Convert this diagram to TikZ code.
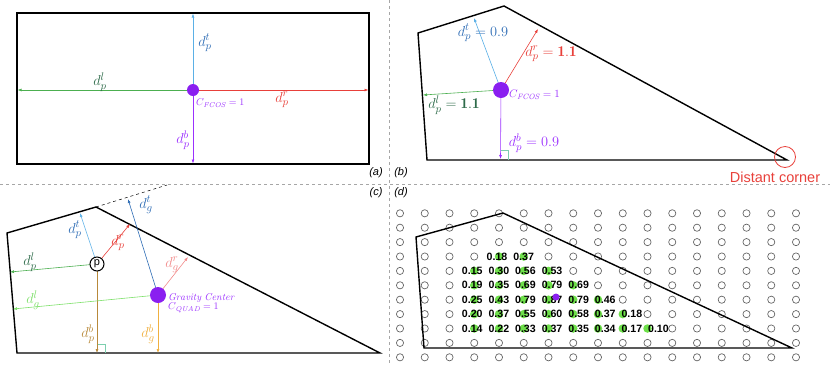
\documentclass[tikz,border=0pt]{standalone}
\usepackage{fontspec}
\setsansfont{Liberation Sans}
\usetikzlibrary{arrows.meta}
\definecolor{lblue}{HTML}{5BB0E6}
\definecolor{dblue}{HTML}{2F6DB5}
\definecolor{agreen}{HTML}{4CAF50}
\definecolor{dgreen}{HTML}{2E6B4A}
\definecolor{ared}{HTML}{E8403A}
\definecolor{apurple}{HTML}{9B30FF}
\definecolor{dotpurple}{HTML}{8A1FF0}
\definecolor{abrown}{HTML}{B8893A}
\definecolor{aorange}{HTML}{F0B040}
\definecolor{lgreen}{HTML}{7EE06A}
\definecolor{apink}{HTML}{F28A8A}
\definecolor{sqgreen}{HTML}{7CCFAE}
\definecolor{numgreen}{HTML}{6EE04A}
\tikzset{
  arr/.style={line width=0.6pt,-{Latex[length=4pt,width=3pt]}},
  poly/.style={line width=1.4pt,black,line join=miter},
  bigdot/.style={circle,fill=dotpurple,inner sep=0pt,minimum size=#1},
  lab/.style={font=\fontsize{15.5}{17}\selectfont,inner sep=0pt},
  labb/.style={font=\fontsize{15}{17}\selectfont,inner sep=0pt},
  small/.style={font=\fontsize{10}{11}\selectfont,inner sep=0pt,text=apurple},
  tag/.style={font=\sffamily\itshape\fontsize{11}{12}\selectfont,inner sep=0pt},
  sep/.style={gray!70,dashed,line width=0.6pt},
  gridc/.style={circle,draw=gray!80!black,line width=0.7pt,minimum size=7.2pt,inner sep=0pt},
  gdot/.style={circle,fill=numgreen,minimum size=8.5pt,inner sep=0pt},
  num/.style={font=\sffamily\bfseries\fontsize{10.6}{10.6}\selectfont,inner sep=0pt,anchor=west},
}
\begin{document}
\begin{tikzpicture}[x=1pt,y=-1pt]
\useasboundingbox (0,0) rectangle (830,365);
% separators
\coordinate (s1) at (389,0); \coordinate (s2) at (389,365);
\coordinate (s3) at (0,184); \coordinate (s4) at (830,184);
\draw[sep] (s1) -- (s2);
\draw[sep] (s3) -- (s4);
\node[tag] (ta) at (376,173) {(a)};
\node[tag] (tb) at (401,173) {(b)};
\node[tag] (tc) at (376,193) {(c)};
\node[tag] (td) at (401,193) {(d)};

% ---------- panel (a)
\draw[poly] (17,13) rectangle (369,164);
\coordinate (aT) at (193,13.5);
\coordinate (aB) at (193,163.5);
\coordinate (aL) at (17.5,90);
\coordinate (aR) at (368.5,90);
\coordinate (aC) at (193,90);
\draw[arr,lblue] (aC) -- (aT);
\draw[arr,apurple] (aC) -- (aB);
\draw[arr,agreen] (aC) -- (aL);
\draw[arr,ared] (aC) -- (aR);
\node[bigdot=12pt] (ca) at (aC) {};
\node[lab,text=dblue] (la1) at (205,43) {$d_p^t$};
\node[lab,text=dgreen] (la2) at (100,82) {$d_p^l$};
\node[lab,text=ared] (la3) at (282,100) {$d_p^r$};
\node[lab,text=apurple] (la4) at (183,140) {$d_p^b$};
\node[small,anchor=west] (la5) at (196,103) {$C_{\mathit{FCOS}}=1$};

% ---------- panel (b)
\coordinate (b1) at (418,33);
\coordinate (b2) at (504,6);
\coordinate (b3) at (787,160);
\coordinate (b4) at (427,160);
\draw[poly] (b1) -- (b2) -- (b3) -- (b4) -- cycle;
\coordinate (bC) at (501,90);
\coordinate (bT) at (474,18);
\coordinate (bR) at (538,29);
\coordinate (bL) at (423,95);
\coordinate (bB) at (500.5,159);
\draw[arr,lblue] (bC) -- (bT);
\draw[arr,ared] (bC) -- (bR);
\draw[arr,agreen] (bC) -- (bL);
\draw[arr,apurple] (bC) -- (bB);
\coordinate (bq1) at (500.5,150); \coordinate (bq2) at (508,150); \coordinate (bq3) at (508,159.5);
\draw[sqgreen,line width=0.7pt] (bq1) -- (bq2) -- (bq3);
\node[bigdot=16pt] (cb) at (bC) {};
\node[labb,text=dblue] (lb1) at (483,33) {$d_p^t=0.9$};
\node[labb,text=ared] (lb2) at (551,54) {$d_p^r=\mathbf{1.1}$};
\node[labb,text=dgreen] (lb3) at (454,105) {$d_p^l=\mathbf{1.1}$};
\node[small,anchor=west,font=\fontsize{11}{12}\selectfont] (lb4) at (509,95) {$C_{\mathit{FCOS}}=1$};
\node[labb,text=apurple] (lb5) at (534,143) {$d_p^b=0.9$};
\node[circle,draw=ared,line width=0.8pt,minimum size=21pt,inner sep=0pt] (dc) at (785,157) {};
\node[font=\sffamily\fontsize{14.5}{15}\selectfont,text=ared,inner sep=0pt] (dct) at (775,177) {Distant corner};

% ---------- panel (c)
\coordinate (c1) at (7,233);
\coordinate (c2) at (96,207);
\coordinate (c3) at (380,353);
\coordinate (c4) at (17,353);
\coordinate (cx) at (167,185);
\draw[black,dashed,line width=0.5pt] (c2) -- (cx);
\draw[poly] (c1) -- (c2) -- (c3) -- (c4) -- cycle;
\coordinate (pC) at (97,264);
\coordinate (gC) at (158,295);
\coordinate (pT) at (80,213);
\coordinate (pR) at (130,224);
\coordinate (pL) at (10,272);
\coordinate (pB) at (97,353);
\coordinate (gT) at (128,199);
\coordinate (gR) at (188,257);
\coordinate (gL) at (13,309);
\coordinate (gB) at (158,353);
\draw[arr,lblue] (pC) -- (pT);
\draw[arr,ared] (pC) -- (pR);
\draw[arr,agreen] (pC) -- (pL);
\draw[arr,abrown] (pC) -- (pB);
\draw[arr,dblue] (gC) -- (gT);
\draw[arr,apink] (gC) -- (gR);
\draw[arr,lgreen] (gC) -- (gL);
\draw[arr,aorange] (gC) -- (gB);
\coordinate (cq1) at (97.5,344); \coordinate (cq2) at (105,344); \coordinate (cq3) at (105,353);
\draw[sqgreen,line width=0.7pt] (cq1) -- (cq2) -- (cq3);
\node[circle,draw=black,fill=white,line width=1pt,minimum size=14pt,inner sep=0pt,font=\sffamily\fontsize{11}{11}\selectfont] (pnode) at (pC) {p};
\node[bigdot=16pt] (cg) at (gC) {};
\node[lab,text=dblue] (lc1) at (146,205) {$d_g^t$};
\node[lab,text=dblue] (lc2) at (75,230) {$d_p^t$};
\node[lab,text=ared] (lc3) at (118,243) {$d_p^r$};
\node[lab,text=apink] (lc4) at (172,265) {$d_g^r$};
\node[lab,text=dgreen] (lc5) at (30,262) {$d_p^l$};
\node[lab,text=lgreen] (lc6) at (33,300) {$d_g^l$};
\node[lab,text=abrown] (lc7) at (88,334) {$d_p^b$};
\node[lab,text=aorange] (lc8) at (148,334) {$d_g^b$};
\node[small,anchor=west] (lc9) at (168,298) {$\mathit{Gravity\ Center}$};
\node[small,anchor=west] (lc10) at (168,307.5) {$C_{\mathit{QUAD}}=1$};

% ---------- panel (d)
\foreach \r in {0,...,10}{
  \foreach \c in {0,...,16}{
    \pgfmathtruncatemacro\isnum{(\r>=3)&&(\r<=8)&&(\c>=3+(\r==3))&&(\c<=\r+2)}
    \ifnum\isnum=0
      \node[gridc] (g-\r-\c) at ({400+24.75*\c},{213.3+14.4*\r}) {};
    \fi
  }
}
\coordinate (d1) at (416,237);
\coordinate (d2) at (503,213);
\coordinate (d3) at (792,348);
\coordinate (d4) at (424,348);
\draw[poly] (d1) -- (d2) -- (d3) -- (d4) -- cycle;
\foreach \r/\cs/\vals in {
  3/4/{0.18,0.37},
  4/3/{0.15,0.30,0.56,0.53},
  5/3/{0.19,0.35,0.69,0.79,0.69},
  6/3/{0.25,0.43,0.79,0.87,0.79,0.46},
  7/3/{0.20,0.37,0.55,0.60,0.58,0.37,0.18},
  8/3/{0.14,0.22,0.33,0.37,0.35,0.34,0.17,0.10}}{
  \foreach \v [count=\k from 0] in \vals {
    \pgfmathsetmacro\xx{400+24.75*(\cs+\k)}
    \pgfmathsetmacro\tx{400+24.75*\cs-12.5+26.6*\k}
    \pgfmathsetmacro\yy{213.3+14.4*\r}
    \node[gdot] (gd-\r-\k) at (\xx,\yy) {};
    \node[num] (nv-\r-\k) at (\tx,\yy) {\v};
  }
}
\node[circle,fill=dotpurple,minimum size=7pt,inner sep=0pt] (cd) at (556,297) {};
\end{tikzpicture}
\end{document}
